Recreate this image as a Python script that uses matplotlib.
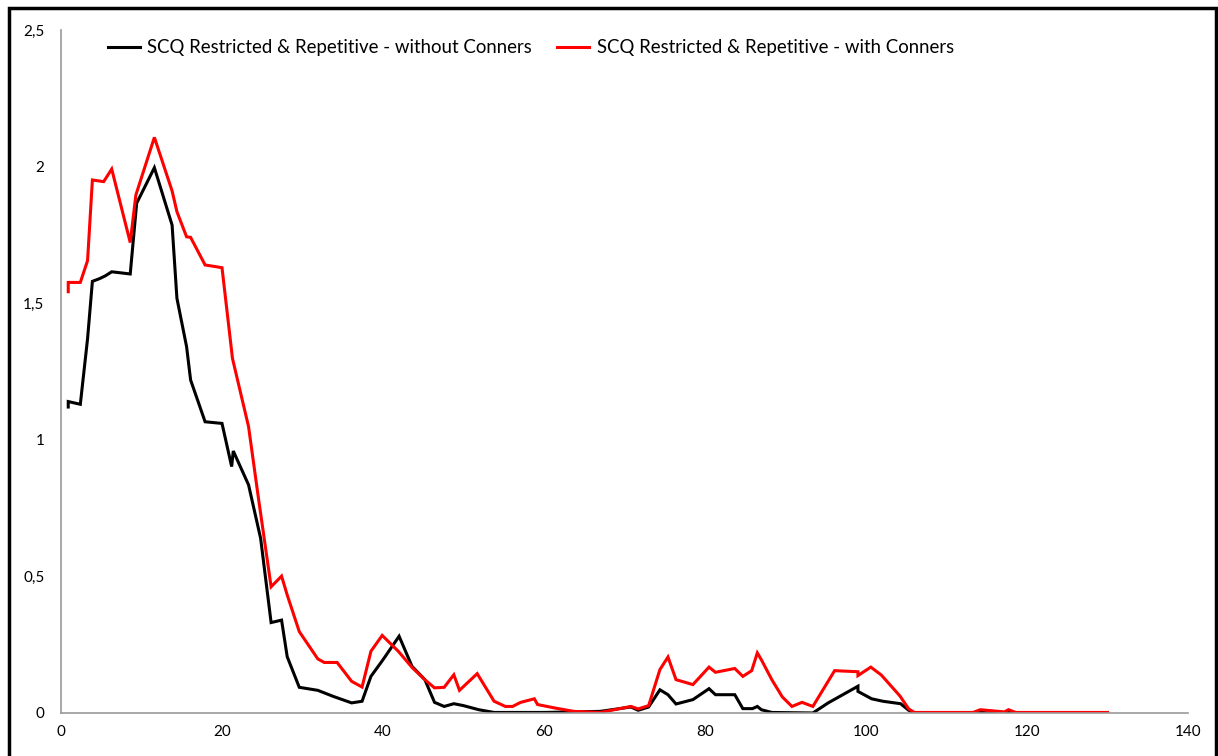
import matplotlib
matplotlib.use("Agg")
import matplotlib.pyplot as plt
from matplotlib.patches import Rectangle
from matplotlib.ticker import FuncFormatter

label_without = "SCQ Restricted & Repetitive - without Conners"
label_with = "SCQ Restricted & Repetitive - with Conners"

x_without = [0.9, 0.9, 2.4, 3.3, 3.9, 4.8, 5.5, 6.3, 8.6, 9.4, 11.6, 13.8, 14.4, 15.6, 16.1,
             17.9, 20.0, 21.2, 21.4, 23.3, 24.8, 26.1, 27.4, 28.1, 29.6, 31.9, 33.8, 36.1, 37.4,
             38.5, 40.0, 42.0, 43.6, 45.2, 46.4, 47.6, 48.8, 50.0, 51.9, 53.8, 60, 67, 70.8, 71.7,
             73.0, 74.4, 75.4, 76.4, 78.5, 80.5, 81.3, 83.7, 84.7, 85.9, 86.5, 87.0, 88.3, 93.4,
             95.3, 99.0, 99.0, 100.7, 102.1, 104.3, 105.3, 106.0, 114.0, 114.3, 115, 117.5, 117.7,
             118.2, 130]
y_without = [1.12, 1.14, 1.13, 1.37, 1.58, 1.59, 1.60, 1.615, 1.607, 1.866, 1.996, 1.786, 1.518,
             1.341, 1.219, 1.066, 1.060, 0.902, 0.959, 0.835, 0.639, 0.331, 0.340, 0.206, 0.094,
             0.083, 0.061, 0.037, 0.043, 0.134, 0.195, 0.281, 0.171, 0.122, 0.039, 0.024, 0.034,
             0.027, 0.012, 0.002, 0.002, 0.006, 0.022, 0.010, 0.022, 0.085, 0.067, 0.033, 0.049,
             0.089, 0.067, 0.067, 0.016, 0.016, 0.024, 0.012, 0.002, 0.0, 0.037, 0.098, 0.079,
             0.052, 0.043, 0.034, 0.01, 0.0, 0.0, 0.005, 0.0, 0.0, 0.005, 0.0, 0.0]

x_with = [0.9, 0.9, 2.4, 3.3, 3.9, 5.3, 6.3, 8.6, 9.3, 11.6, 13.8, 14.4, 15.6, 16.1, 17.9,
          20.0, 21.3, 23.3, 24.5, 26.1, 27.4, 28.1, 29.6, 31.9, 32.7, 34.3, 36.1, 37.4, 38.5,
          39.9, 41.9, 43.6, 45.2, 46.4, 47.6, 48.8, 49.5, 51.7, 53.8, 55.2, 56.1, 57.1, 58.8,
          59.2, 61.4, 63.7, 67, 70.8, 71.7, 73.0, 74.4, 75.4, 76.4, 78.5, 80.5, 81.3, 83.7,
          84.7, 85.8, 86.5, 87.0, 88.3, 89.6, 90.8, 92.05, 93.4, 96.1, 99.0, 99.0, 100.6, 101.9,
          104.2, 105.3, 106.0, 113.3, 114.2, 117.2, 117.7, 118.6, 130]
y_with = [1.542, 1.576, 1.576, 1.656, 1.951, 1.945, 1.991, 1.722, 1.896, 2.107, 1.911, 1.835,
          1.743, 1.741, 1.640, 1.630, 1.298, 1.048, 0.792, 0.462, 0.501, 0.432, 0.298, 0.198,
          0.185, 0.185, 0.116, 0.095, 0.226, 0.284, 0.226, 0.167, 0.122, 0.092, 0.094, 0.140,
          0.083, 0.144, 0.043, 0.024, 0.024, 0.039, 0.052, 0.031, 0.018, 0.006, 0.002, 0.024,
          0.015, 0.027, 0.159, 0.205, 0.122, 0.104, 0.168, 0.149, 0.163, 0.134, 0.155, 0.220,
          0.195, 0.122, 0.059, 0.024, 0.039, 0.024, 0.155, 0.151, 0.137, 0.168, 0.139, 0.063,
          0.015, 0.002, 0.002, 0.012, 0.004, 0.012, 0.002, 0.002]

x_ticks = [0, 20, 40, 60, 80, 100, 120, 140]
y_ticks = [0, 0.5, 1, 1.5, 2, 2.5]

plt.rcParams['font.family'] = ['Lato', 'DejaVu Sans']

W, H = 1218, 756
fig = plt.figure(figsize=(W / 100, H / 100), dpi=100)
fig.patch.set_facecolor('white')
ax = fig.add_axes([61 / W, 1 - 713 / H, (1188 - 61) / W, (713 - 30) / H])

ax.plot(x_without, y_without, color='black', lw=2.2, label=label_without, solid_joinstyle='miter')
ax.plot(x_with, y_with, color='#ff0000', lw=2.2, label=label_with, solid_joinstyle='miter')

ax.set_xlim(0, 140)
ax.set_ylim(0, 2.5)
ax.set_xticks(x_ticks)
ax.set_yticks(y_ticks)

def fmt(v, pos):
    return ('%g' % v).replace('.', ',')

ax.xaxis.set_major_formatter(FuncFormatter(fmt))
ax.yaxis.set_major_formatter(FuncFormatter(fmt))
ax.tick_params(axis='both', length=0, labelsize=11, colors='black')
ax.tick_params(axis='x', pad=9)
ax.tick_params(axis='y', pad=12)
for s in ['top', 'right']:
    ax.spines[s].set_visible(False)
for s in ['left', 'bottom']:
    ax.spines[s].set_color('#999999')
    ax.spines[s].set_linewidth(1.2)

leg = fig.legend(loc='center left', bbox_to_anchor=(108 / W, 1 - 48 / H), ncol=2, frameon=False,
                 fontsize=13.4, handlelength=1.7, handletextpad=0.42, columnspacing=1.35,
                 borderaxespad=0, borderpad=0)

fig.add_artist(Rectangle((9 / W, -0.05), (1216 - 9) / W, 1 - 8 / H + 0.05,
                         transform=fig.transFigure, fill=False, edgecolor='black', lw=2.5))

fig.savefig('out.png', dpi=100, facecolor='white')
